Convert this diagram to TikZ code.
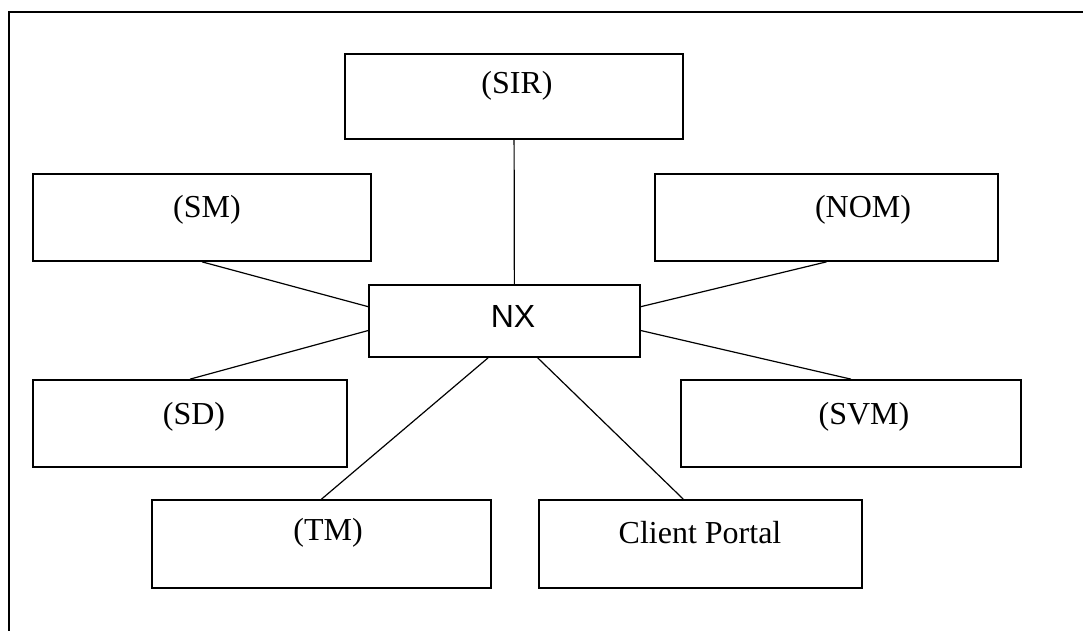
\documentclass[tikz,border=0pt]{standalone}
\usepackage{fontspec}
\setmainfont{Liberation Serif}
\newfontfamily\nxfont{Liberation Sans}
\usepackage{tikz}

\begin{document}
\begin{tikzpicture}[x=0.5pt,y=-0.5pt]
      \tikzstyle{box} = [rectangle, draw, line width=0.85pt, inner sep=0pt]
      \tikzstyle{txt} = [inner sep=0pt, font=\fontsize{16}{19}\selectfont]
      \tikzstyle{link} = [line width=0.6pt]
      \useasboundingbox (0,0) rectangle (1083,631);
      % outer frame
      \coordinate (f1) at (9,645);
      \coordinate (f2) at (9,12);
      \coordinate (f3) at (1095,12);
      \draw [line width=1.1pt] (f1)--(f2)--(f3);
      % boxes
      \node (sir) [box, minimum width=169pt, minimum height=42.5pt] at (514,96.5) {};
      \node (sm) [box, minimum width=169pt, minimum height=43.5pt] at (202,217.5) {};
      \node (nom) [box, minimum width=171.5pt, minimum height=43.5pt] at (826.5,217.5) {};
      \node (nx) [box, minimum width=135.5pt, minimum height=36pt] at (504.5,321) {};
      \node (sd) [box, minimum width=157pt, minimum height=43.5pt] at (190,423.5) {};
      \node (svm) [box, minimum width=170pt, minimum height=43.5pt] at (851,423.5) {};
      \node (tm) [box, minimum width=169.5pt, minimum height=44pt] at (321.5,544) {};
      \node (cp) [box, minimum width=161.5pt, minimum height=44pt] at (700.5,544) {};
      % texts
      \node (sirtxt) [txt] at (517,86) {(SIR)};
      \node (smtxt) [txt] at (207,210) {(SM)};
      \node (nomtxt) [txt] at (863,210) {(NOM)};
      \node (nxtxt) [txt, font=\nxfont\fontsize{16}{19}\selectfont] at (513,316) {NX};
      \node (sdtxt) [txt] at (194,417) {(SD)};
      \node (svmtxt) [txt] at (864,417) {(SVM)};
      \node (tmtxt) [txt] at (328,533) {(TM)};
      \node (cptxt) [txt] at (700,533) {Client Portal};
      % links
      \draw [link] (sir)--(nx.75);
      \draw [link] (sm.south)--(nx.174);
      \draw [link] (sd.north)--(nx.184);
      \draw [link] (nom.south)--(nx.6);
      \draw [link] (svm.north)--(nx.356);
      \draw [link] (tm.north)--(nx.246.7);
      \draw [link] (cp.111.7)--(nx.312.1);
\end{tikzpicture}
\end{document}
